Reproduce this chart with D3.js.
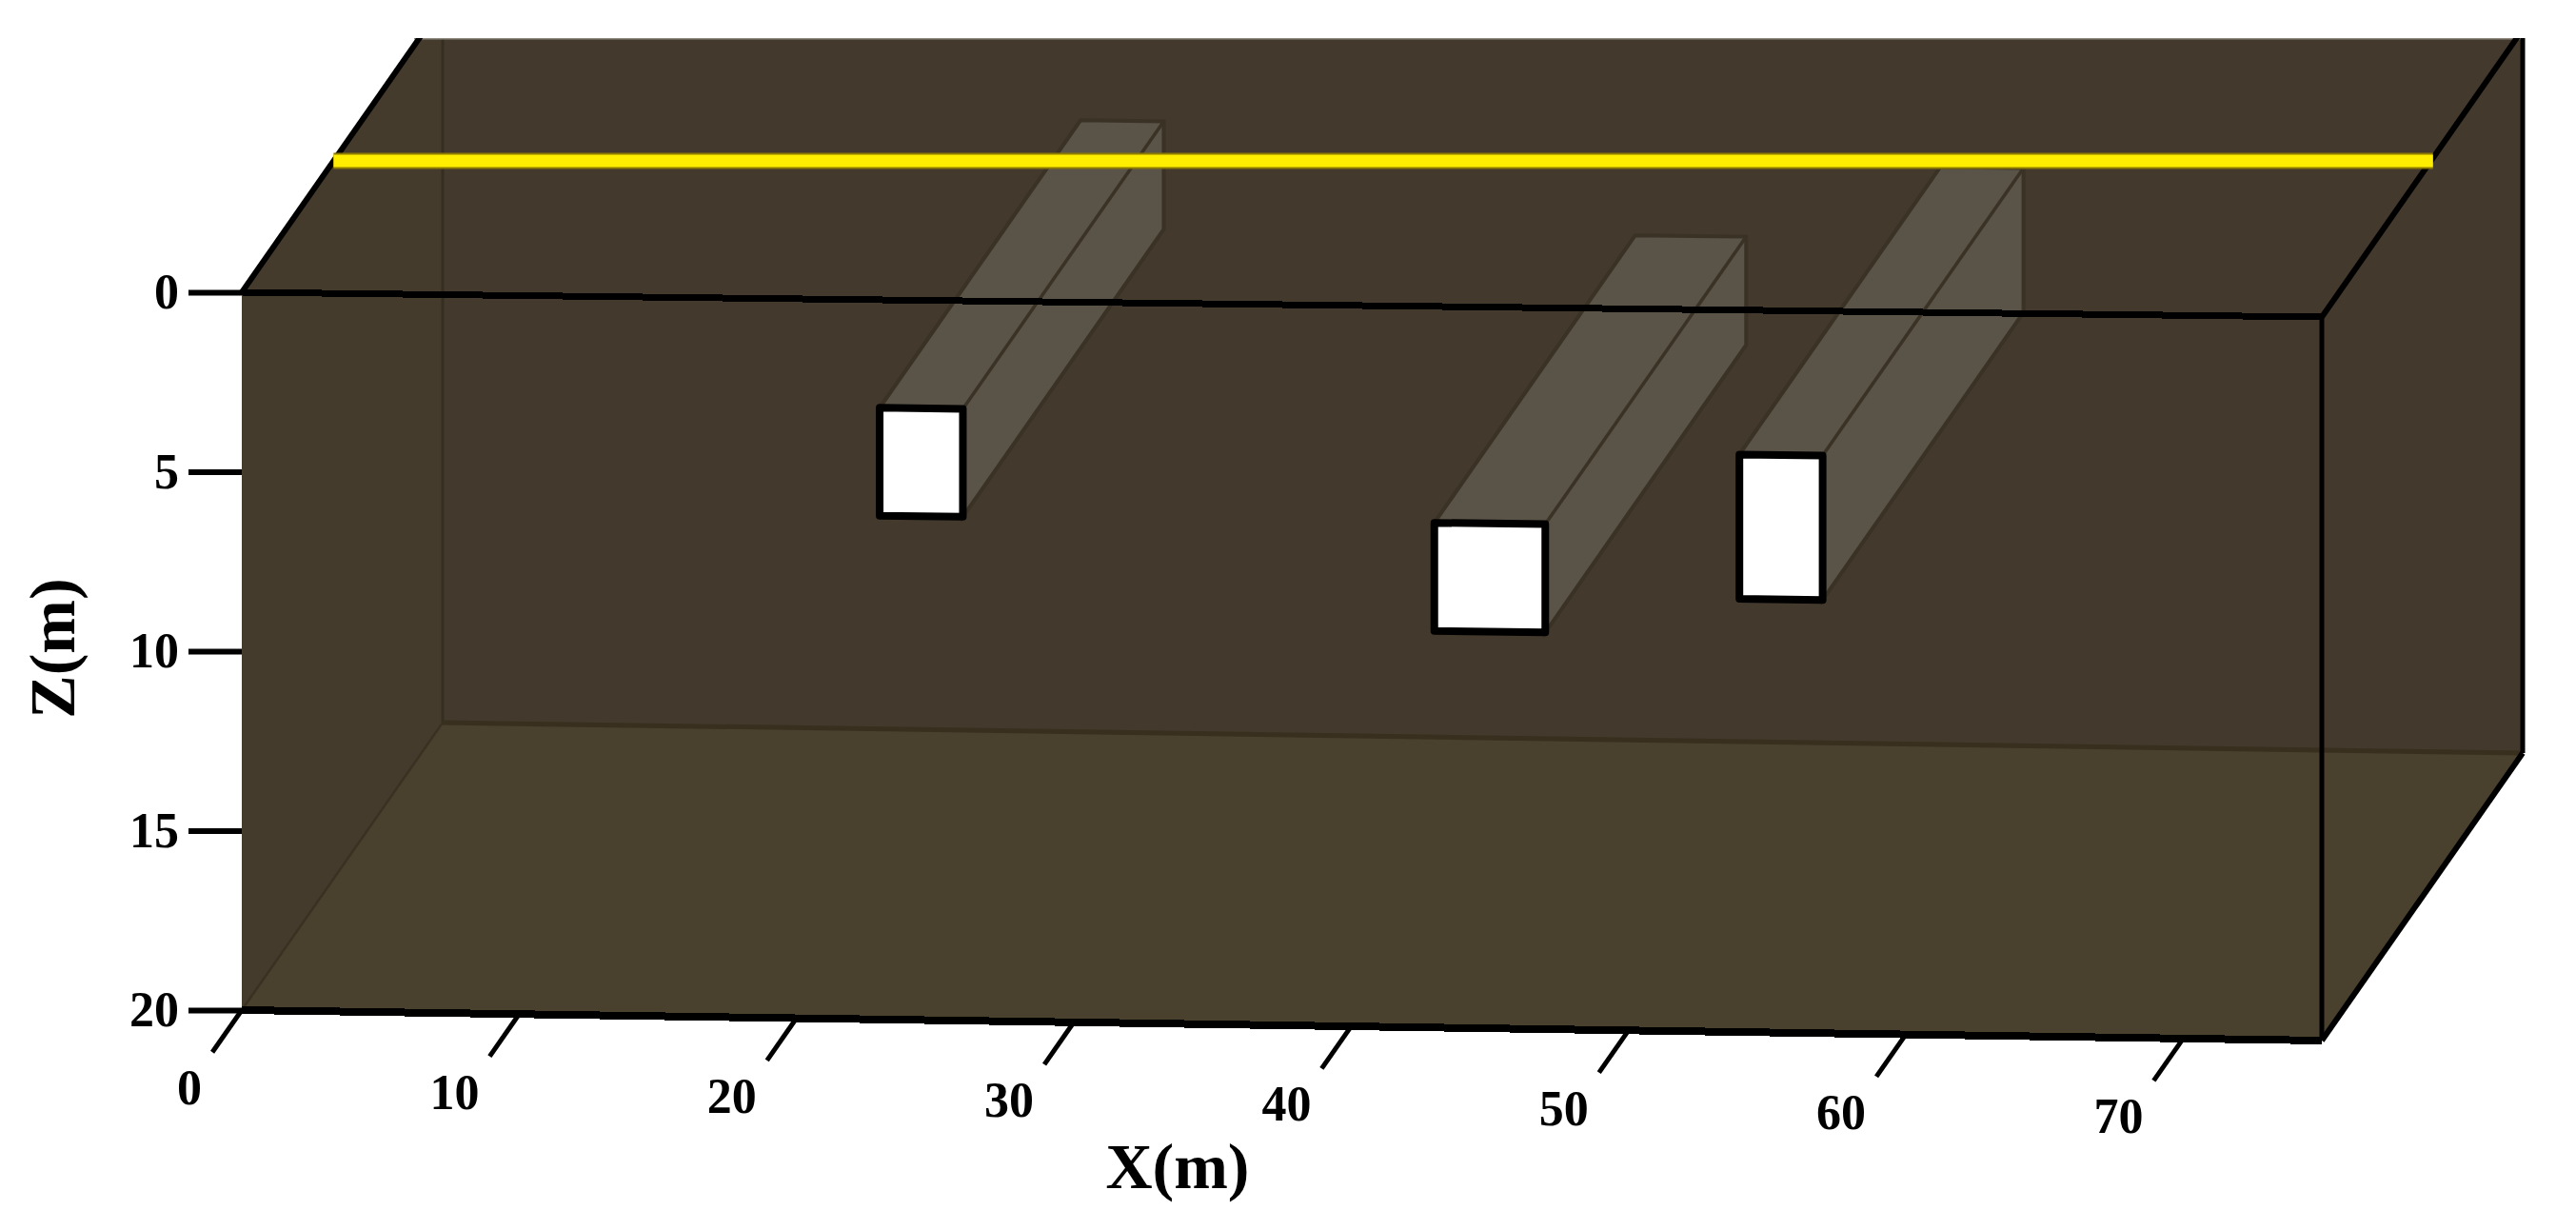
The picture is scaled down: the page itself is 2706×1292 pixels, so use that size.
<!DOCTYPE html>
<html>
<head>
<meta charset="utf-8">
<style>
  html, body { margin: 0; background: #fff; }
  svg { display: block; }
  text { font-family: "Liberation Serif", serif; font-weight: bold; fill: #000; }
</style>
<script src="https://cdn.jsdelivr.net/npm/d3@7"></script>
</head>
<body>
<svg width="2706" height="1292"></svg>
<script>
  // model size in metres (depth is not labelled in the figure, 30 is an estimate)
  const modelX = [0, 75];
  const modelZ = [0, 20];
  const modelDepth = [0, 30];

  const xTicks = [0, 10, 20, 30, 40, 50, 60, 70];
  const zTicks = [0, 5, 10, 15, 20];

  // the three tunnels, same order in each list
  const tunnelX0 = [23, 43, 54];
  const tunnelX1 = [26, 47, 57];
  const tunnelZ0 = [3, 6, 4];
  const tunnelZ1 = [6, 9, 8];

  // yellow survey line, x and depth at each end
  const surveyX = [0, 75];
  const surveyDepth = [13.7, 16.6];

  const svg = d3.select("svg");

  const x = d3.scaleLinear().domain(modelX).range([254, 2439]);
  const z = d3.scaleLinear().domain(modelZ).range([307, 1061]);
  const depthX = d3.scaleLinear().domain(modelDepth).range([0, 211]);
  const depthY = d3.scaleLinear().domain(modelDepth).range([0, -302]);
  // the front face leans a little: 26px at the top, 32px at the bottom
  const lean = d3.scaleLinear().domain(modelZ).range([26, 32]);

  const project = (mx, mz, md) => [
    x(mx) + depthX(md),
    z(mz) + lean(mz) * mx / modelX[1] + depthY(md)
  ];

  const line = d3.line();
  const [x0, x1] = modelX;
  const [zTop, zBot] = modelZ;
  const dBack = modelDepth[1];

  svg.append("clipPath").attr("id", "crop")
    .append("rect").attr("x", 0).attr("y", 40).attr("width", 2706).attr("height", 1252);

  const solid = svg.append("g").attr("clip-path", "url(#crop)");

  const face = (pts, fill) => solid.append("path")
    .attr("d", line(pts) + "Z").attr("fill", fill);
  const edge = (g, a, b, color, w, crisp) => g.append("path")
    .attr("d", line([a, b]))
    .attr("fill", "none")
    .attr("stroke", color)
    .attr("stroke-width", w)
    .attr("shape-rendering", crisp ? "crispEdges" : null);

  // walls
  face([project(x0, zTop, 0), project(x0, zTop, dBack), project(x1, zTop, dBack), project(x1, zBot, dBack),
        project(x1, zBot, 0), project(x0, zBot, 0)], "#43392c");
  // left wall slightly lighter than the front
  face([project(x0, zTop, 0), project(x0, zTop, dBack), project(x0, zBot, dBack), project(x0, zBot, 0)], "#453b2d");
  // floor
  face([project(x0, zBot, 0), project(x1, zBot, 0), project(x1, zBot, dBack), project(x0, zBot, dBack)], "#4a402e");

  // back edges, dim because they are seen through the front
  edge(solid, project(x0, zTop, dBack), project(x0, zBot, dBack), "#372e22", 3);
  edge(solid, project(x0, zBot, 0), project(x0, zBot, dBack), "#3a3123", 2.5);
  edge(solid, project(x0, zBot, dBack), project(x1, zBot, dBack), "#382f1e", 5);

  // tunnels
  tunnelX0.forEach((tx0, i) => {
    const tx1 = tunnelX1[i], tz0 = tunnelZ0[i], tz1 = tunnelZ1[i];
    const g = solid.append("g");
    g.append("path")
      .attr("d", line([project(tx0, tz0, 0), project(tx1, tz0, 0), project(tx1, tz1, 0),
                       project(tx1, tz1, dBack), project(tx1, tz0, dBack), project(tx0, tz0, dBack)]) + "Z")
      .attr("fill", "#5a5348")
      .attr("stroke", "#3b3226")
      .attr("stroke-width", 4);
    edge(g, project(tx1, tz0, 0), project(tx1, tz0, dBack), "#3b3226", 3.5);
  });

  // top edge of the crop, a thin grey line in the figure
  edge(solid, [project(x0, zTop, dBack)[0] - 30, 40.5], [project(x1, zTop, dBack)[0], 40.5], "#8d887e", 2);

  // black outline of the block
  edge(solid, project(x0, zTop, 0), project(x0, zTop, dBack), "#000", 6);
  edge(solid, project(x1, zTop, 0), project(x1, zTop, dBack), "#000", 6);
  edge(solid, project(x1, zTop, dBack), project(x1, zBot, dBack), "#000", 5);
  edge(solid, project(x1, zTop, 0), project(x1, zBot, 0), "#000", 5);
  edge(solid, project(x1, zBot, 0), project(x1, zBot, dBack), "#000", 6);
  edge(solid, project(x0, zTop, 0), project(x1, zTop, 0), "#000", 7, true);
  edge(solid, project(x0, zBot, 0), project(x1, zBot, 0), "#000", 8, true);

  // tunnel mouths on the front face
  tunnelX0.forEach((tx0, i) => {
    const tx1 = tunnelX1[i], tz0 = tunnelZ0[i], tz1 = tunnelZ1[i];
    solid.append("path")
      .attr("d", line([project(tx0, tz0, 0), project(tx1, tz0, 0), project(tx1, tz1, 0), project(tx0, tz1, 0)]) + "Z")
      .attr("fill", "#fff")
      .attr("stroke", "#000")
      .attr("stroke-width", 8)
      .attr("stroke-linejoin", "round");
  });

  // survey line
  const surveyPts = surveyX.map((v, i) => {
    const p = project(v, zTop, surveyDepth[i]);
    return [p[0], 169];
  });
  edge(solid, surveyPts[0], surveyPts[1], "#8f7d00", 17);
  edge(solid, surveyPts[0], surveyPts[1], "#ffee00", 13);

  // Z axis
  const zAxis = svg.append("g")
    .attr("transform", `translate(${x(x0)},0)`)
    .call(d3.axisLeft(z).tickValues(zTicks).tickSize(56).tickPadding(10));
  zAxis.select(".domain").remove();
  zAxis.selectAll("line").attr("stroke", "#000").attr("stroke-width", 6);
  zAxis.selectAll("text")
    .attr("font-family", null)
    .style("font-size", "52px")
    .attr("dy", "0.32em");

  // X axis, ticks slant along the depth direction
  const tickDepth = -4.4;
  const xAxis = svg.append("g")
    .call(d3.axisBottom(x).tickValues(xTicks).tickSize(0));
  xAxis.select(".domain").remove();
  xAxis.selectAll(".tick")
    .attr("transform", d => `translate(${project(d, zBot, 0)})`);
  xAxis.selectAll("line")
    .attr("x2", depthX(tickDepth))
    .attr("y2", depthY(tickDepth))
    .attr("stroke", "#000")
    .attr("stroke-width", 5);
  xAxis.selectAll("text")
    .style("font-size", "52px")
    .attr("text-anchor", "end")
    .attr("x", depthX(tickDepth) - 11)
    .attr("y", depthY(tickDepth) + 55)
    .attr("dy", null);

  // axis titles
  svg.append("text")
    .attr("x", 1237).attr("y", 1248)
    .attr("text-anchor", "middle")
    .style("font-size", "68px")
    .text("X(m)");
  svg.append("text")
    .attr("transform", "translate(78,681) rotate(-90)")
    .attr("text-anchor", "middle")
    .style("font-size", "68px")
    .text("Z(m)");
</script>
</body>
</html>
